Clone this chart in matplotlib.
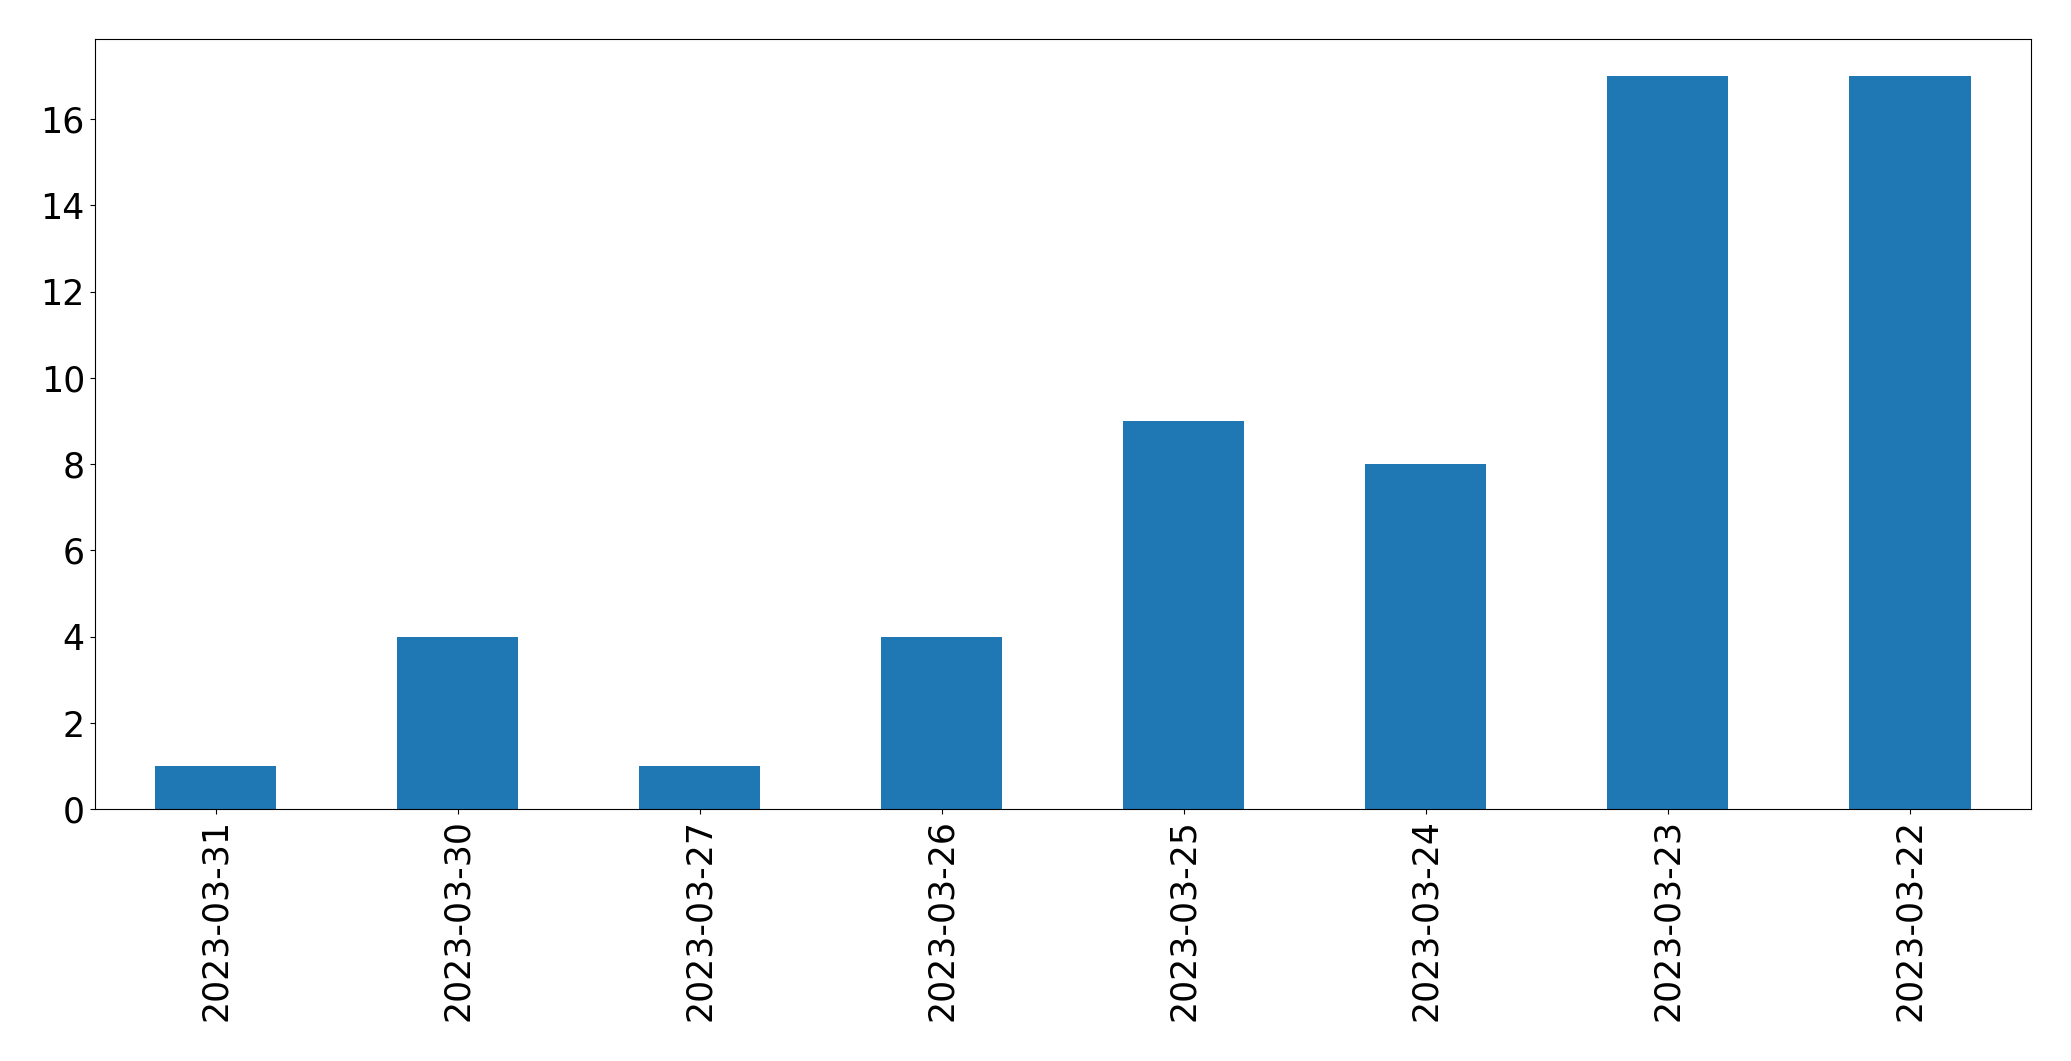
import matplotlib
matplotlib.use("Agg")
import matplotlib.pyplot as plt

dates = ["2023-03-31", "2023-03-30", "2023-03-27", "2023-03-26",
         "2023-03-25", "2023-03-24", "2023-03-23", "2023-03-22"]
counts = [1, 4, 1, 4, 9, 8, 17, 17]

fig = plt.figure(figsize=(20.71, 10.61), dpi=100)
ax = fig.add_axes([0.0457, 0.2372, 0.9350, 0.7258])
x = list(range(len(dates)))
ax.bar(x, counts, width=0.5, color="#1f77b4")
ax.set_xlim(-0.5, len(dates) - 0.5)
ax.set_ylim(0, 17 * 1.05)
ax.set_xticks(x)
ax.set_xticklabels(dates, rotation=90, fontsize=25)
ax.tick_params(axis="y", labelsize=25)
fig.savefig("out.png", dpi=100)
